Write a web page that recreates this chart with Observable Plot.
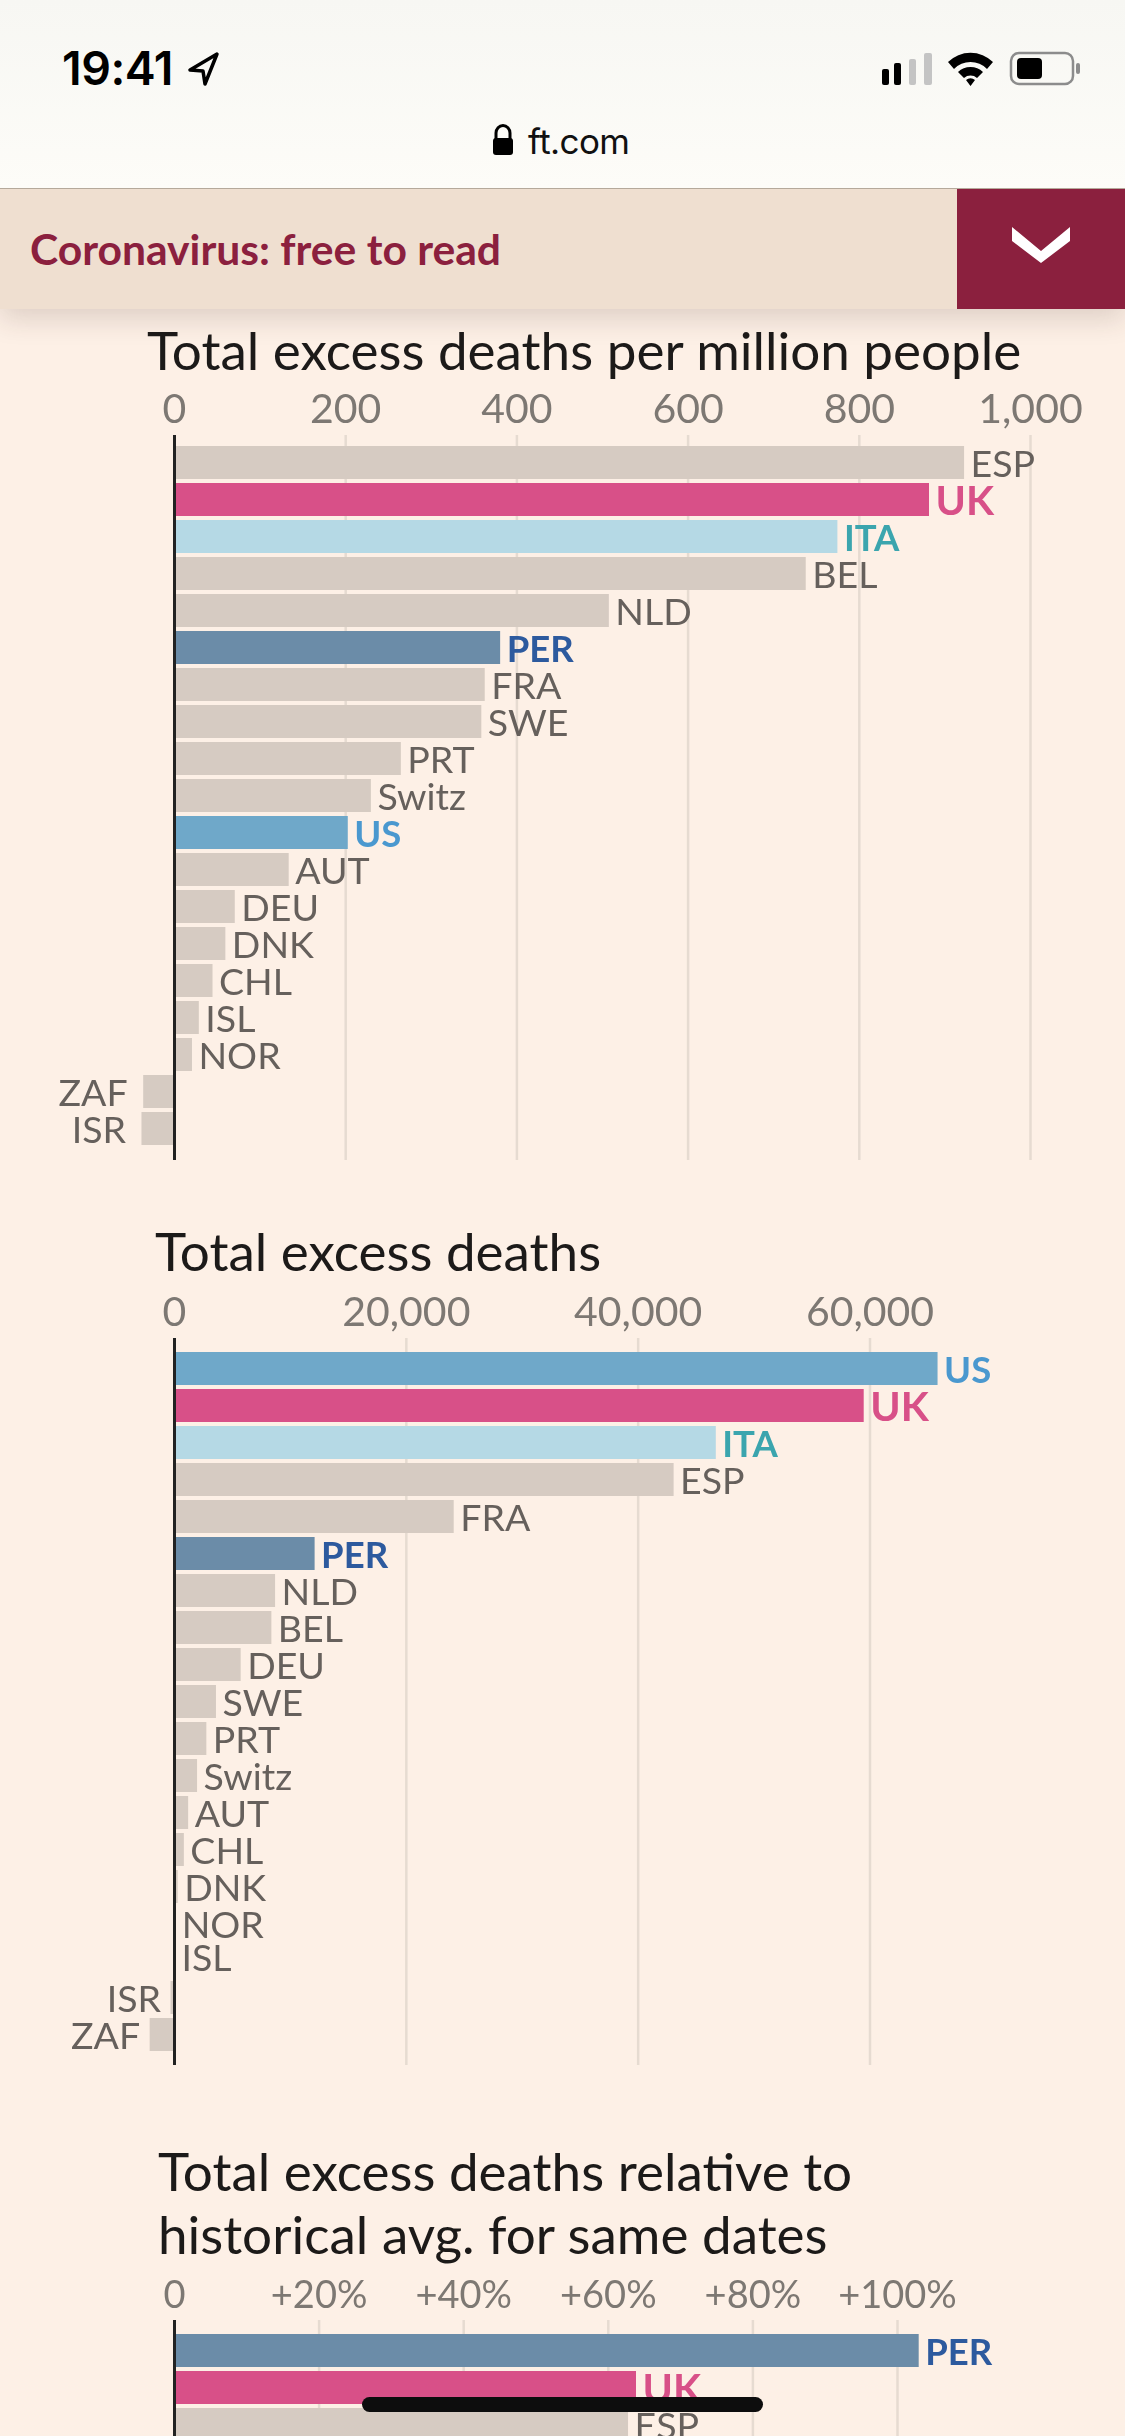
<!DOCTYPE html>
<html><head><meta charset="utf-8">
<script src="https://cdn.jsdelivr.net/npm/d3@7"></script>
<script src="https://cdn.jsdelivr.net/npm/@observablehq/plot@0.6"></script>
<style>
html,body{margin:0;padding:0;background:#fdf0e6}
#page{position:relative;width:1125px;height:2436px;overflow:hidden;background:#fdf0e6;font-family:Lato,sans-serif}
#top{position:absolute;left:0;top:0;width:1125px;height:188px;background:linear-gradient(#f7f7f3,#fdfcf8);border-bottom:1px solid #b5a99b;z-index:3}
#time{position:absolute;left:62px;top:42px;font:600 46.5px/52px Inter,Roboto,sans-serif;color:#000;letter-spacing:-.5px}
#site{position:absolute;left:528px;top:118px;font:400 35px/46px Inter,Roboto,sans-serif;color:#111;letter-spacing:-.6px}
#banner{position:absolute;left:0;top:189px;width:1125px;height:120px;background:#efdfd0;box-shadow:0 10px 26px rgba(60,40,30,.16);z-index:2}
#bannerText{position:absolute;left:30px;top:35px;font:700 42.6px/50px Lato,sans-serif;color:#8b203e}
#bannerBox{position:absolute;left:957px;top:0;width:168px;height:120px;background:#8b203e}
#home{position:absolute;left:362px;top:2397px;width:401px;height:15px;border-radius:8px;background:#0d0d0d;z-index:4}
.title{position:absolute;color:#1c1a19;font:400 53px/64px Lato,sans-serif;white-space:nowrap;z-index:1;filter:blur(.5px)}
.plot{position:absolute;left:0;filter:blur(.5px)}
svg.icons{position:absolute;left:0;top:0;z-index:4}
</style></head><body>
<div id="page">
  <div id="top"><div id="time">19:41</div><div id="site">ft.com</div></div>
  <svg class="icons" width="1125" height="188">
    <path d="M217 54 L190 70 L203 71 L205 84 Z" fill="none" stroke="#000" stroke-width="3.500" stroke-linejoin="round"/>
    <g fill="#000"><rect x="882" y="69" width="7" height="16" rx="2"/><rect x="894" y="63" width="7" height="22" rx="2"/></g>
    <g fill="#c4c4c4"><rect x="909" y="59" width="7" height="26" rx="2"/><rect x="924" y="53" width="8" height="32" rx="2"/></g>
    <path d="M948 62 A32 32 0 0 1 993 62 L987 69 A23 23 0 0 0 954 69 Z M958 72 A18 18 0 0 1 983 72 L977 78 A10 10 0 0 0 964 78 Z M966 80 A7 7 0 0 1 975 80 L970.500 86 Z" fill="#000"/>
    <rect x="1011" y="53" width="62" height="31" rx="8" fill="none" stroke="#8c8c8c" stroke-width="2.500"/>
    <rect x="1017" y="58" width="25" height="21" rx="4" fill="#000"/>
    <rect x="1076" y="63" width="4" height="11" rx="2" fill="#8c8c8c"/>
    <path d="M496 139 v-6 a7 7.500 0 0 1 14 0 v6" fill="none" stroke="#000" stroke-width="3"/>
    <rect x="493" y="138" width="20" height="17" rx="3" fill="#000"/>
  </svg>
  <div id="banner"><div id="bannerText">Coronavirus: free to read</div>
    <div id="bannerBox"><svg width="168" height="120"><path d="M55 42 L84 66 L113 42 L113 56 L84 78 L55 56 Z" fill="#fff" transform="translate(0,-4)"/></svg></div></div>
  <div class="title" id="t1" style="left:147px;top:318px">Total excess deaths per million people</div>
  <div class="title" id="t2" style="left:155px;top:1219px">Total excess deaths</div>
  <div class="title" id="t3" style="left:158px;top:2139px">Total excess deaths relative to</div>
  <div class="title" id="t4" style="left:158px;top:2202px">historical avg. for same dates</div>
  <div id="home"></div>
</div>
<script>
const perMillionNames = ["ESP","UK","ITA","BEL","NLD","PER","FRA","SWE","PRT","Switz","US","AUT","DEU","DNK","CHL","ISL","NOR","ZAF","ISR"];
const perMillionValues = [923,882,775,738,508,381,363,359,265,230,203,134,71,60,45,29,21,-36,-38];
const perMillionTicks = [0,200,400,600,800,1000];

const totalNames = ["US","UK","ITA","ESP","FRA","PER","NLD","BEL","DEU","SWE","PRT","Switz","AUT","CHL","DNK","NOR","ISL","ISR","ZAF"];
const totalValues = [65870,59500,46740,43100,24130,12130,8720,8400,5750,3620,2790,1990,1220,850,320,100,80,-300,-2100];
const totalTicks = [0,20000,40000,60000];

const relativeNames = ["PER","UK","ESP"];
const relativeValues = [103,63.9,62.8];
const relativeTicks = [0,20,40,60,80,100];

const barColors = {US:"#6fa8c9",UK:"#d85088",ITA:"#b5d9e5",PER:"#6b8ca8"};
const labelColors = {US:"#4a98cf",UK:"#d85088",ITA:"#3ba5ae",PER:"#2d5a9e"};
const GREY_BAR = "#d6cbc2", GREY_TEXT = "#66605c";

function chart({names, values, ticks, tickFormat, tickFontSize, xRange, top, axisTop, axisBottom, firstRow, negDx, islDy}) {
  const rows = names.map((name,i)=>({name, value:values[i]}));
  const isHi = d => d.name in labelColors && d.name !== "UK";
  const isUK = d => d.name === "UK";
  const isGrey = d => !(d.name in labelColors);
  const pitch = 37, bar = 33;
  const labels = (filter, opts) => [
    Plot.text(rows.filter(d=>filter(d)&&d.value>=0&&d.name!=="ISL"),{x:"value",y:"name",text:"name",dx:6,dy:2,textAnchor:"start",...opts}),
    Plot.text(rows.filter(d=>filter(d)&&d.value>=0&&d.name==="ISL"),{x:"value",y:"name",text:"name",dx:6,dy:2+islDy,textAnchor:"start",...opts}),
    Plot.text(rows.filter(d=>filter(d)&&d.value<0),{x:"value",y:"name",text:"name",dx:negDx,dy:2,textAnchor:"end",...opts})
  ];
  const p = Plot.plot({
    width:1125, height:axisBottom-top, marginTop:axisTop-top, marginBottom:0, marginLeft:0, marginRight:0,
    style:{background:"transparent",fontFamily:"Lato,sans-serif",overflow:"visible"},
    x:{domain:[ticks[0],ticks[ticks.length-1]],range:xRange,axis:null},
    y:{domain:names,range:[firstRow-top,firstRow-top+names.length*pitch-(pitch-bar)],paddingInner:(pitch-bar)/pitch,paddingOuter:0,round:false,axis:null},
    color:{type:"identity"},
    marks:[
      Plot.ruleX(ticks.slice(1),{stroke:"#e6dbd1",strokeWidth:2.5}),
      Plot.barX(rows,{x:"value",y:"name",fill:d=>barColors[d.name]||GREY_BAR}),
      ...labels(isGrey,{fill:GREY_TEXT,fontSize:37.5,fontWeight:400}),
      ...labels(isHi,{fill:d=>labelColors[d.name],fontSize:36.5,fontWeight:700}),
      ...labels(isUK,{fill:labelColors.UK,fontSize:41,fontWeight:700}),
      Plot.ruleX([0],{stroke:"#222",strokeWidth:3}),
      Plot.axisX(ticks,{anchor:"top",tickSize:0,tickPadding:13,tickFormat,fontSize:tickFontSize,fill:"#7d7873",fontWeight:400,lineAnchor:"bottom",label:null})
    ]
  });
  p.classList.add("plot");
  p.style.top = top+"px";
  document.getElementById("page").appendChild(p);
}
const comma = d3.format(",");
chart({names:perMillionNames,values:perMillionValues,ticks:perMillionTicks,tickFormat:comma,tickFontSize:41,xRange:[174,1030],top:370,axisTop:435,axisBottom:1160,firstRow:446,negDx:-16,islDy:0});
chart({names:totalNames,values:totalValues,ticks:totalTicks,tickFormat:comma,tickFontSize:41,xRange:[174,869.5],top:1270,axisTop:1338,axisBottom:2065,firstRow:1352,negDx:-10,islDy:-4});
chart({names:relativeNames,values:relativeValues,ticks:relativeTicks,tickFormat:d=>d===0?"0":"+"+d+"%",tickFontSize:38,xRange:[174,897],top:2250,axisTop:2320,axisBottom:2436,firstRow:2334,negDx:-10,islDy:0});
</script>
</body></html>
